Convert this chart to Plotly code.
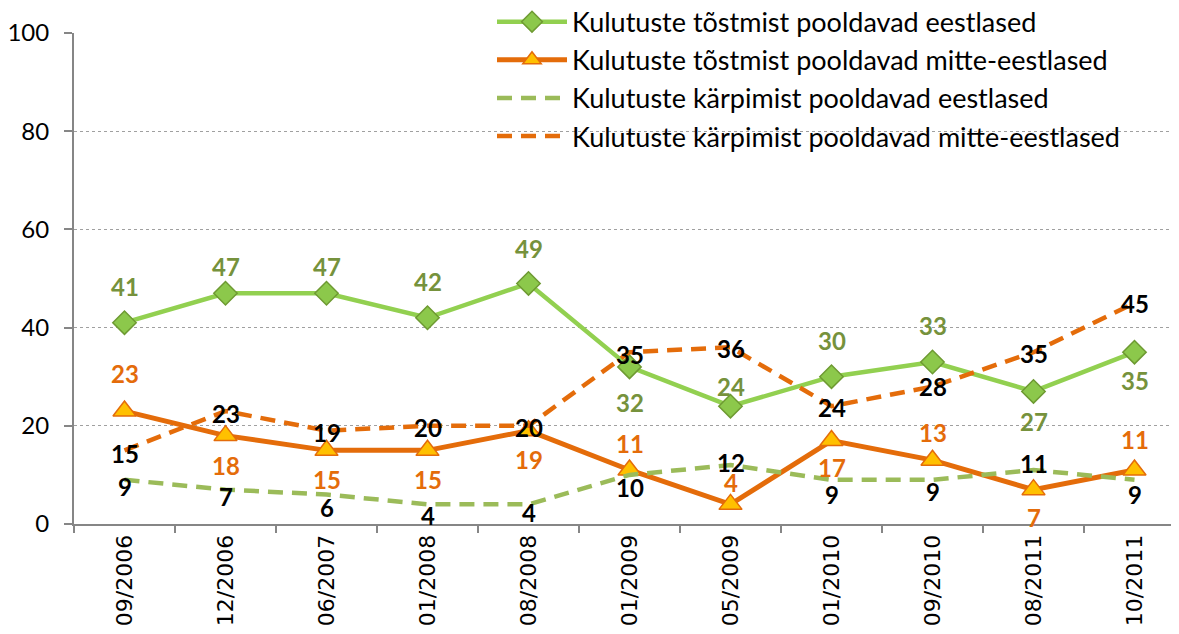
import plotly.graph_objects as go

categories = ["09/2006", "12/2006", "06/2007", "01/2008", "08/2008", "01/2009",
              "05/2009", "01/2010", "09/2010", "08/2011", "10/2011"]
raise_est = [41, 47, 47, 42, 49, 32, 24, 30, 33, 27, 35]
raise_non = [23, 18, 15, 15, 19, 11, 4, 17, 13, 7, 11]
cut_est = [9, 7, 6, 4, 4, 10, 12, 9, 9, 11, 9]
cut_non = [15, 23, 19, 20, 20, 35, 36, 24, 28, 35, 45]
y_ticks = [0, 20, 40, 60, 80, 100]

names = ["Kulutuste tõstmist pooldavad eestlased",
         "Kulutuste tõstmist pooldavad mitte-eestlased",
         "Kulutuste kärpimist pooldavad eestlased",
         "Kulutuste kärpimist pooldavad mitte-eestlased"]

# label vertical offsets in pixels (positive = up)
off_raise_est = [36, 27, 27, 36, 35, -36, 20, 36, 36, -30, -28]
off_raise_non = [38, -30, -29, -29, -29, 26, 22, -27, 28, -28, 30]
off_cut_est = [-7, -7, -13, -11, -8, -13, 3, -15, -12, 6, -15]
off_cut_non = [-3, -2, -2, -2, -2, -2, -1, -1, 0, -1, 0]

GREEN = "#92D050"
GREEN_D = "#9BBB59"
GREEN_T = "#76923C"
ORANGE = "#E46C0A"
FONT = "Lato"

# page body adds an 8px offset; layout is compensated for it
L, T, PW, PH = 66, 25, 1111, 491

fig = go.Figure()
fig.add_trace(go.Scatter(
    x=categories, y=raise_est, name=names[0], mode="lines+markers",
    line=dict(color=GREEN, width=4.5),
    marker=dict(symbol="diamond", size=18, color="#8CC84B",
                line=dict(color="#6E9A32", width=1.5))))
fig.add_trace(go.Scatter(
    x=categories, y=raise_non, name=names[1], mode="lines+markers",
    line=dict(color=ORANGE, width=5),
    marker=dict(symbol="triangle-up", size=20, color="#FFC000",
                line=dict(color=ORANGE, width=1.5))))
fig.add_trace(go.Scatter(
    x=categories, y=cut_est, name=names[2], mode="lines",
    line=dict(color=GREEN_D, width=4.5, dash="15px,9px")))
fig.add_trace(go.Scatter(
    x=categories, y=cut_non, name=names[3], mode="lines",
    line=dict(color=ORANGE, width=4.5, dash="15px,9px")))

anns = []
for vals, offs, col in [(raise_est, off_raise_est, GREEN_T),
                        (raise_non, off_raise_non, ORANGE),
                        (cut_est, off_cut_est, "black"),
                        (cut_non, off_cut_non, "black")]:
    for c, v, o in zip(categories, vals, offs):
        anns.append(dict(x=c, y=v, text=f"<b>{v}</b>", showarrow=False,
                         yshift=o, font=dict(family=FONT, size=24, color=col)))

fig.update_layout(
    width=1179, height=634,
    margin=dict(l=L, r=1179 - L - PW, t=T, b=634 - T - PH, autoexpand=False),
    paper_bgcolor="white", plot_bgcolor="white",
    annotations=anns,
    showlegend=True,
    legend=dict(x=(484 - L) / PW, y=1.072, xanchor="left", yanchor="top",
                xref="paper", yref="paper",
                bgcolor="rgba(0,0,0,0)", itemwidth=70,
                font=dict(family=FONT, size=27, color="black"),
                tracegroupgap=0),
    shapes=[dict(type="rect", xref="paper", yref="paper",
                 x0=(382 - L) / PW, x1=1.0, y0=(T + PH - 152) / PH, y1=1.1,
                 fillcolor="white", line=dict(width=0), layer="between")],
    xaxis=dict(type="category", range=[-0.5, 10.5], tickson="boundaries",
               ticks="outside", ticklen=7, tickcolor="#868686", tickwidth=1.5,
               showline=True, linecolor="#868686", linewidth=2,
               showgrid=False, tickangle=-90, automargin=False,
               tickfont=dict(family="DejaVu Sans", size=22, color="black")),
    yaxis=dict(range=[0, 100], tickvals=y_ticks, ticks="outside", ticklen=8,
               tickcolor="#868686", tickwidth=1.5, showline=True,
               linecolor="#868686", ticklabelstandoff=10, automargin=False,
               linewidth=2, showgrid=True, gridcolor="#A0A0A0", griddash="dot",
               gridwidth=1, zeroline=False,
               tickfont=dict(family=FONT, size=24, color="black")),
)

fig.write_html("out.html")
